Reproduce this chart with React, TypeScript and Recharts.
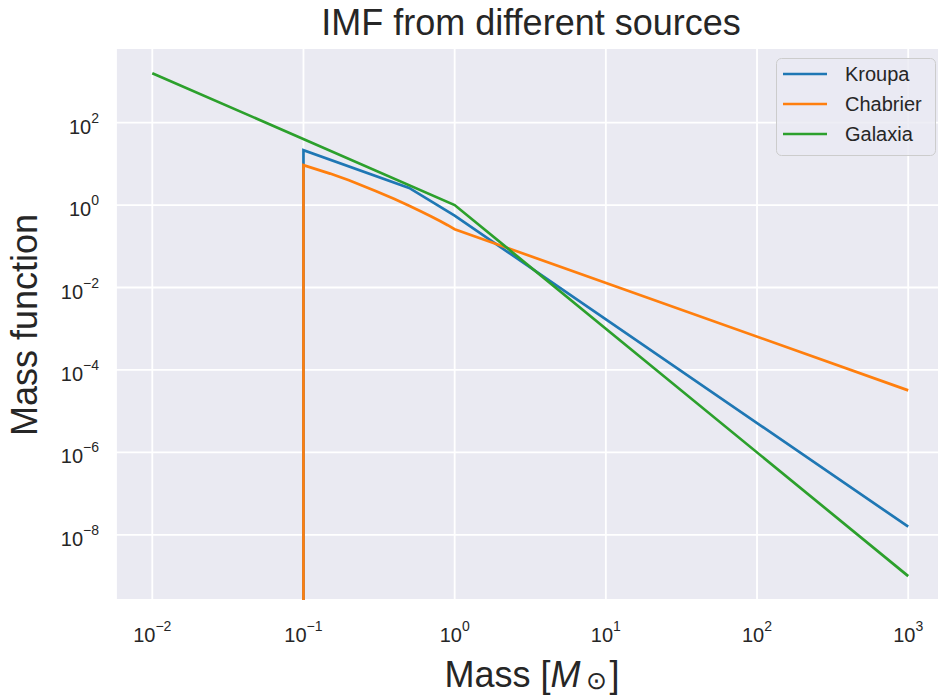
import React from 'react';
import { LineChart, Line, XAxis, YAxis, CartesianGrid, Legend, Label } from 'recharts';

// ---- data ----
const kroupaMass = [0.1, 0.1, 0.5, 1, 1000];
const kroupaValues = [1e-12, 21.4, 2.61, 0.556, 1.58e-8];

const chabrierMass = [0.1, 0.1, 0.15, 0.2, 0.3, 0.4, 0.5, 0.6, 0.7, 0.8, 0.9, 1, 1000];
const chabrierValues = [1e-12, 9.3, 5.8, 4.0, 2.2, 1.4, 0.96, 0.7, 0.53, 0.41, 0.325, 0.26, 3.2e-5];

const galaxiaMass = [0.01, 1, 1000];
const galaxiaValues = [1585, 1.0, 1.0e-9];

const xTicks = [0.01, 0.1, 1, 10, 100, 1000];
const xTickExponents = ['\u22122', '\u22121', '0', '1', '2', '3'];
const yTicks = [1e-8, 1e-6, 1e-4, 1e-2, 1, 100];
const yTickExponents = ['\u22128', '\u22126', '\u22124', '\u22122', '0', '2'];

const seriesNames = ['Kroupa', 'Chabrier', 'Galaxia'];
const seriesColors = ['#1f77b4', '#ff7f0e', '#2ca02c'];

const titleText = 'IMF from different sources';
const yLabelText = 'Mass function';

const toPoints = (ms: number[], vs: number[]) => ms.map((m, i) => ({ m, y: vs[i] }));
const kroupaData = toPoints(kroupaMass, kroupaValues);
const chabrierData = toPoints(chabrierMass, chabrierValues);
const galaxiaData = toPoints(galaxiaMass, galaxiaValues);

const FONT = '"Liberation Sans", Arial, sans-serif';
const TEXT = '#262626';

const XTick = (props: any) => {
  const { x, payload } = props;
  const idx = xTicks.indexOf(payload.value);
  return (
    <text x={x} y={641.7} textAnchor="middle" fill={TEXT} fontSize={20} fontFamily={FONT}>
      10<tspan fontSize={14} dy={-11}>{xTickExponents[idx]}</tspan>
    </text>
  );
};

const YTick = (props: any) => {
  const { y, payload } = props;
  const idx = yTicks.indexOf(payload.value);
  return (
    <text x={99} y={y + 11} textAnchor="end" fill={TEXT} fontSize={20} fontFamily={FONT}>
      10<tspan fontSize={14} dy={-11}>{yTickExponents[idx]}</tspan>
    </text>
  );
};

const renderLegend = (props: any) => {
  const payload = [...(props.payload || [])].sort(
    (a: any, b: any) => seriesNames.indexOf(a.value) - seriesNames.indexOf(b.value)
  );
  return (
    <svg width={160} height={98} style={{ display: 'block' }}>
      <rect x={0.5} y={0.5} width={159} height={97} rx={5} ry={5}
        fill="#EAEAF2" fillOpacity={0.8} stroke="#cccccc" strokeWidth={1} />
      {payload.map((p: any, i: number) => (
        <g key={i}>
          <line x1={7} x2={51} y1={16 + i * 30} y2={16 + i * 30} stroke={p.color} strokeWidth={2.7} />
          <text x={69} y={16 + i * 30 + 7} fontSize={20} fontFamily={FONT} fill={TEXT}>{p.value}</text>
        </g>
      ))}
    </svg>
  );
};

export default function App() {
  return (
    <div style={{ position: 'fixed', left: 0, top: 0, width: 938, height: 697, overflow: 'hidden', background: '#fff' }}>
      <LineChart width={946} height={697} margin={{ top: 48, right: 0, bottom: 0, left: 0 }}>
        <CartesianGrid fill="#EAEAF2" fillOpacity={1} stroke="#ffffff" strokeWidth={1.8} />
        <XAxis
          dataKey="m"
          type="number"
          scale="log"
          domain={[Math.pow(10, -2.24), Math.pow(10, 3.25)]}
          allowDataOverflow
          ticks={xTicks}
          tick={<XTick />}
          axisLine={false}
          tickLine={false}
          height={97}
          interval={0}
        >
          <Label
            content={() => (
              <text x={532} y={687} textAnchor="middle" fontSize={36} fontFamily={FONT} fill={TEXT}>
                Mass [<tspan fontStyle="italic">M</tspan>
                <tspan fontSize={25} dx={5} dy={2}>{'\u2299'}</tspan>
                <tspan fontSize={36} dx={3} dy={-2}>]</tspan>
              </text>
            )}
          />
        </XAxis>
        <YAxis
          type="number"
          scale="log"
          domain={[Math.pow(10, -9.58), Math.pow(10, 3.81)]}
          allowDataOverflow
          ticks={yTicks}
          tick={<YTick />}
          axisLine={false}
          tickLine={false}
          width={116}
          interval={0}
        >
          <Label
            content={() => (
              <text x={37} y={325} transform="rotate(-90, 37, 325)" textAnchor="middle" fontSize={36} fontFamily={FONT} fill={TEXT}>
                {yLabelText}
              </text>
            )}
          />
        </YAxis>
        <Legend
          layout="vertical"
          align="center"
          verticalAlign="middle"
          content={renderLegend}
          wrapperStyle={{ left: 776, top: 58, width: 160, height: 98 }}
        />
        <Line data={kroupaData} dataKey="y" name={seriesNames[0]} stroke={seriesColors[0]} strokeWidth={2.7} dot={false} activeDot={false} isAnimationActive={false} type="linear" />
        <Line data={chabrierData} dataKey="y" name={seriesNames[1]} stroke={seriesColors[1]} strokeWidth={2.7} dot={false} activeDot={false} isAnimationActive={false} type="linear" />
        <Line data={galaxiaData} dataKey="y" name={seriesNames[2]} stroke={seriesColors[2]} strokeWidth={2.7} dot={false} activeDot={false} isAnimationActive={false} type="linear" />
        <text x={531} y={35} textAnchor="middle" fontSize={36} fontFamily={FONT} fill={TEXT}>{titleText}</text>
      </LineChart>
    </div>
  );
}
